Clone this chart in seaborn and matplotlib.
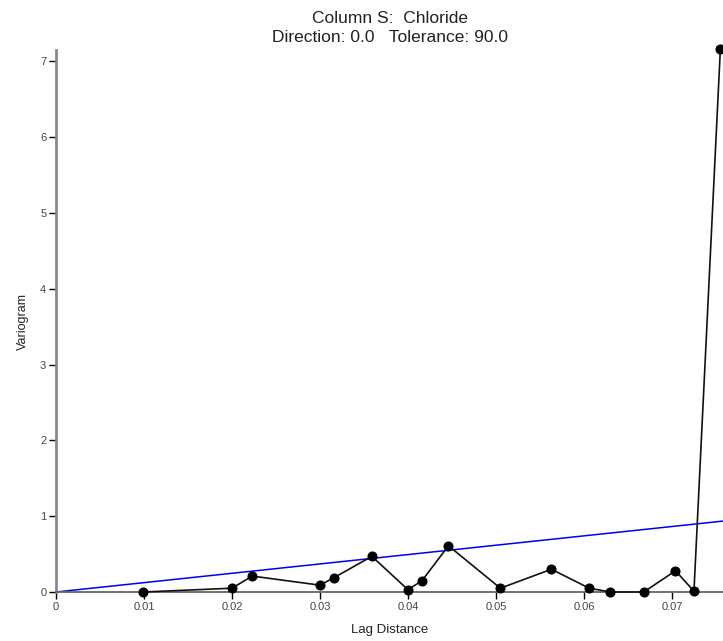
import matplotlib
matplotlib.use("Agg")
import matplotlib.pyplot as plt
import seaborn as sns
import pandas as pd

# Experimental variogram points (lag distance, variogram)
lag = [0.0099, 0.0200, 0.0223, 0.0300, 0.0316, 0.0359, 0.0400, 0.0416,
       0.0446, 0.0505, 0.0563, 0.0606, 0.0630, 0.0668, 0.0704, 0.0725, 0.0755]
gamma = [0.00, 0.05, 0.21, 0.09, 0.19, 0.47, 0.03, 0.15,
         0.61, 0.05, 0.30, 0.05, 0.00, 0.00, 0.28, 0.01, 7.16]

# Fitted linear model
model_x = [0.0, 0.0760]
model_y = [0.0, 0.938]

xticks = [0, 0.01, 0.02, 0.03, 0.04, 0.05, 0.06, 0.07]
xticklabels = ["0", "0.01", "0.02", "0.03", "0.04", "0.05", "0.06", "0.07"]
yticks = [0, 1, 2, 3, 4, 5, 6, 7]

sns.set_style("white")
plt.rcParams['font.family'] = ['Liberation Sans', 'DejaVu Sans']

fig = plt.figure(figsize=(7.23, 6.41), dpi=100)
ax = fig.add_axes([56 / 723, 49 / 641, 1 - 56 / 723, (592 - 50) / 641])

df = pd.DataFrame({"lag": lag, "gamma": gamma})
dm = pd.DataFrame({"x": model_x, "y": model_y})

sns.lineplot(data=dm, x="x", y="y", ax=ax, color="#0000ee", linewidth=1.1,
             sort=False, zorder=2)
sns.lineplot(data=df, x="lag", y="gamma", ax=ax, color="#111111", linewidth=1.2,
             sort=False, marker="o", markersize=6.5, markeredgecolor="black",
             markerfacecolor="black", zorder=3, clip_on=False)

ax.set_xlim(0, 0.0758)
ax.set_ylim(0, 7.15)
ax.set_xticks(xticks)
ax.set_xticklabels(xticklabels)
ax.set_yticks(yticks)

for s in ["top", "right"]:
    ax.spines[s].set_visible(False)
ax.spines["left"].set_color("#888888")
ax.spines["left"].set_linewidth(2.0)
ax.spines["bottom"].set_color("#666666")
ax.spines["bottom"].set_linewidth(1.3)

ax.tick_params(axis="both", direction="out", length=5, width=1, color="black",
               labelsize=8, labelcolor="#444444", pad=2,
               bottom=True, left=True)

ax.set_xlabel("Lag Distance", fontsize=9.5, color="#222222", labelpad=9)
ax.set_ylabel("Variogram", fontsize=9, color="#222222", labelpad=8)
ax.set_title("Column S:  Chloride\nDirection: 0.0   Tolerance: 90.0",
             fontsize=12.5, color="#222222", pad=6, linespacing=1.3)

fig.savefig("out.png", dpi=100)
